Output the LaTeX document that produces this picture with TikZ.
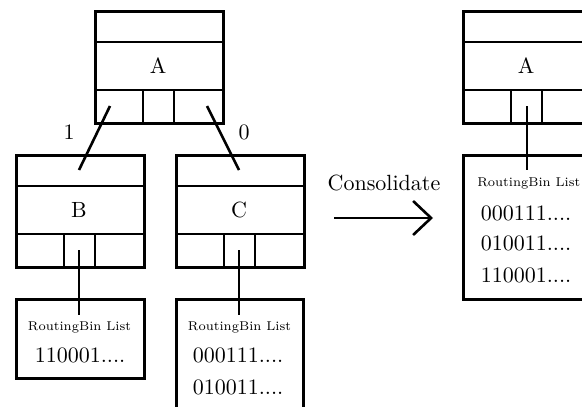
\documentclass[tikz,border=0pt]{standalone}
\usepackage{graphicx}
\usetikzlibrary{arrows.meta}
\newcommand{\rbl}{\resizebox{103pt}{!}{\fontsize{7}{8}\selectfont RoutingBin List}}
\begin{document}
\begin{tikzpicture}[x=1pt,y=-1pt, line width=2.6pt,
  tbl/.style={draw, rectangle, minimum width=128pt, minimum height=112pt, inner sep=0pt, anchor=north west},
  big/.style={font=\fontsize{10}{12}\selectfont, scale=2.2, inner sep=0pt},
  small/.style={inner sep=0pt},
  conn/.style={line width=2.6pt}]
\useasboundingbox (0,0) rectangle (582,407);
\clip (0,0) rectangle (582,407);
% tables
\newcommand{\mytbl}[4]{%
  \node[tbl] (#1) at (#2,#3) {};
  \draw (#2,#3+32) -- (#2+128,#3+32);
  \draw (#2,#3+80) -- (#2+128,#3+80);
  \draw (#2+49,#3+80) -- (#2+49,#3+112);
  \draw (#2+80,#3+80) -- (#2+80,#3+112);
  \node[big] (#1-lab) at (#2+64,#3+56) {#4};
}
\mytbl{A}{94}{10}{A}
\mytbl{B}{15}{154}{B}
\mytbl{C}{175}{154}{C}
\mytbl{R}{462}{10}{A}
% list boxes
\node[draw, rectangle, anchor=north west, minimum width=128pt, minimum height=79pt, inner sep=0pt] (BL) at (15,298) {};
\node[draw, rectangle, anchor=north west, minimum width=127pt, minimum height=140pt, inner sep=0pt] (CL) at (175,298) {};
\node[draw, rectangle, anchor=north west, minimum width=128pt, minimum height=144pt, inner sep=0pt] (RL) at (462,154) {};
% list texts
\node[small] (BL-h) at (79.5,327) {\rbl};
\node[big, anchor=west] (BL-1) at (32,355) {110001....};
\node[small] (CL-h) at (239.5,327) {\rbl};
\node[big, anchor=west] (CL-1) at (190,355) {000111....};
\node[big, anchor=west] (CL-2) at (190,387) {010011....};
\node[small, anchor=west] (RL-h) at (476,183) {\rbl};
\node[big, anchor=west] (RL-1) at (478,213) {000111....};
\node[big, anchor=west] (RL-2) at (478,243) {010011....};
\node[big, anchor=west] (RL-3) at (478,275) {110001....};
% connector endpoints
\coordinate (A-l) at (110,106);
\coordinate (A-r) at (207,106);
\coordinate (B-t) at (79,170);
\coordinate (C-t) at (239,170);
\coordinate (B-m) at (79,250);
\coordinate (BL-t) at (79,315);
\coordinate (C-m) at (239,250);
\coordinate (CL-t) at (239,315);
\coordinate (R-m) at (527,106);
\coordinate (RL-t) at (527,170);
\draw[conn] (A-l) -- (B-t);
\draw[conn] (A-r) -- (C-t);
\draw[conn] (B-m) -- (BL-t);
\draw[conn] (C-m) -- (CL-t);
\draw[conn] (R-m) -- (RL-t);
\node[big] (one) at (69,132) {1};
\node[big] (zero) at (244,132) {0};
% consolidate arrow
\node[big] (cons) at (384,183) {Consolidate};
\coordinate (arS) at (334,218);
\coordinate (arE) at (433,218);
\draw[conn, -{Straight Barb[length=18pt,width=34pt,line width=2.6pt]}] (arS) -- (arE);
\end{tikzpicture}
\end{document}
